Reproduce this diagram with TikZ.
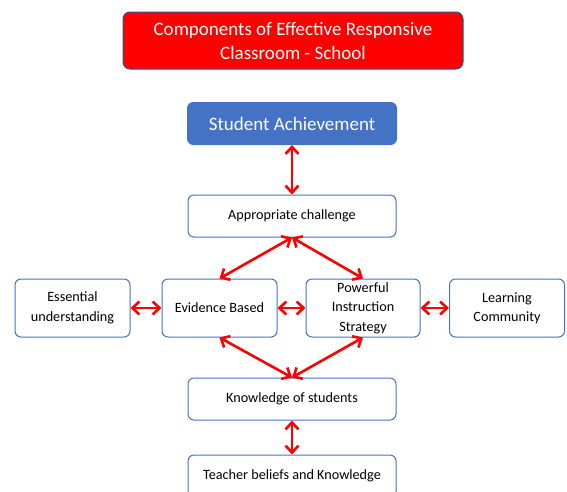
\documentclass[tikz,border=0pt]{standalone}
\usepackage{fontspec}
\setmainfont{Carlito}
\usetikzlibrary{arrows.meta}
\definecolor{boxblue}{HTML}{4472C4}
\definecolor{boxdark}{HTML}{2F528F}
\tikzset{
  item/.style={draw=boxblue,line width=1pt,rounded corners=6pt,fill=white,align=center,
    font=\fontsize{14.2}{19.5}\selectfont,inner sep=0pt},
  link/.style={red,line width=2.6pt,{Straight Barb[length=7pt,width=13pt]}-{Straight Barb[length=7pt,width=13pt]}}
}
\begin{document}
\begin{tikzpicture}[x=1pt,y=-1pt]
\useasboundingbox (0,0) rectangle (567,491);
% header boxes
\node[draw=boxdark,fill=red,line width=1pt,rounded corners=7pt,text=white,align=center,
  minimum width=340pt,minimum height=57pt,font=\fontsize{19}{24}\selectfont] (title) at (293,40.5)
  {Components of Effective Responsive\\Classroom - School};
\node[draw=boxblue,fill=boxblue,line width=1pt,rounded corners=6pt,text=white,
  minimum width=209pt,minimum height=42pt,font=\fontsize{19}{22}\selectfont] (ach) at (292,123.5)
  {Student Achievement};
% components
\node[item,minimum width=208pt,minimum height=42pt] (chal) at (292,216) {Appropriate challenge};
\node[item,minimum width=115pt,minimum height=58pt] (ess) at (72.5,308) {Essential\\understanding};
\node[item,minimum width=115pt,minimum height=58pt] (evid) at (219.5,308) {Evidence Based};
\node[item,minimum width=114pt,minimum height=58pt] (pow) at (363,308) {Powerful\\Instruction\\Strategy};
\node[item,minimum width=115pt,minimum height=58pt] (learn) at (507,308) {Learning\\Community};
\node[item,minimum width=208pt,minimum height=42pt] (know) at (292,399) {Knowledge of students};
\node[item,minimum width=208pt,minimum height=42pt] (teach) at (292,476) {Teacher beliefs and Knowledge};
% links
\draw[link] (ach) -- (chal);
\draw[link] (chal.south) -- (evid.north);
\draw[link] (chal.south) -- (pow.north);
\draw[link] (ess) -- (evid);
\draw[link] (evid) -- (pow);
\draw[link] (pow) -- (learn);
\draw[link] (evid.south) -- (know.north);
\draw[link] (pow.south) -- (know.north);
\draw[link] (know) -- (teach);
\end{tikzpicture}
\end{document}
